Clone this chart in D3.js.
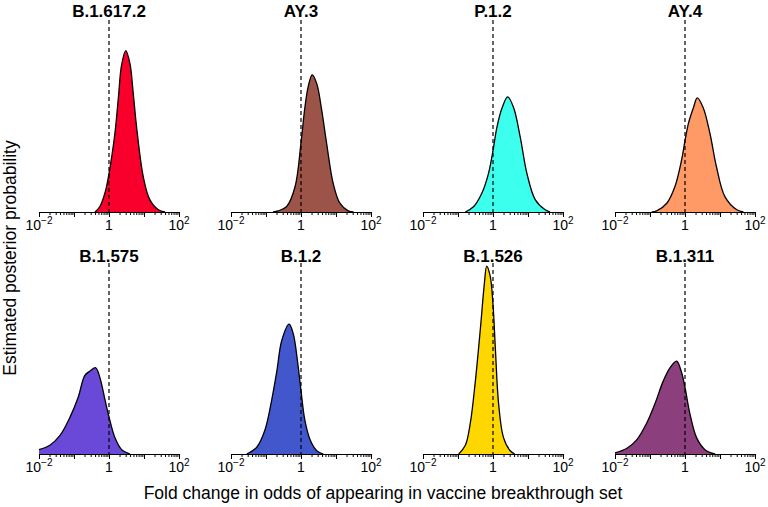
<!DOCTYPE html>
<html>
<head>
<meta charset="utf-8">
<script src="https://cdn.jsdelivr.net/npm/d3@7"></script>
<style>
  html, body { margin: 0; padding: 0; background: #fff; }
  svg { display: block; font-family: "Liberation Sans", Arial, Helvetica, sans-serif; }
</style>
</head>
<body>
<svg id="chart" width="768" height="507"></svg>
<script>
// ---- data (x = log10 fold change, y = estimated posterior density) ----
const lineages = ["B.1.617.2", "AY.3", "P.1.2", "AY.4", "B.1.575", "B.1.2", "B.1.526", "B.1.311"];

const densB16172 = [[-0.40,0],[-0.26,0.05],[-0.11,0.18],[0,0.35],[0.17,0.72],[0.27,1.05],[0.36,1.34],[0.48,1.47],[0.60,1.35],[0.69,1.09],[0.79,0.77],[0.98,0.32],[1.17,0.11],[1.41,0.02],[1.6,0]];
const densAY3    = [[-0.80,0],[-0.65,0.01],[-0.41,0.05],[-0.17,0.23],[0,0.63],[0.11,0.95],[0.21,1.15],[0.32,1.25],[0.45,1.17],[0.59,0.93],[0.73,0.63],[0.92,0.26],[1.11,0.08],[1.35,0.01],[1.5,0]];
const densP12    = [[-0.79,0],[-0.55,0.05],[-0.32,0.17],[-0.13,0.35],[0,0.56],[0.11,0.77],[0.26,0.95],[0.42,1.05],[0.59,0.95],[0.78,0.68],[0.97,0.35],[1.21,0.11],[1.49,0.02],[1.63,0]];
const densAY4    = [[-0.95,0],[-0.81,0.01],[-0.52,0.08],[-0.29,0.23],[-0.10,0.47],[0,0.65],[0.10,0.81],[0.24,0.95],[0.35,1.04],[0.52,0.95],[0.71,0.72],[0.90,0.41],[1.14,0.14],[1.48,0.02],[1.67,0]];
const densB1575  = [[-2,0.04],[-1.69,0.08],[-1.40,0.17],[-1.11,0.34],[-0.88,0.52],[-0.69,0.72],[-0.54,0.76],[-0.38,0.79],[-0.26,0.70],[-0.11,0.49],[0,0.34],[0.17,0.15],[0.36,0.04],[0.6,0]];
const densB12    = [[-1.55,0],[-1.27,0.06],[-1.03,0.22],[-0.84,0.49],[-0.69,0.76],[-0.55,1.04],[-0.34,1.19],[-0.22,1.10],[-0.10,0.85],[0,0.58],[0.11,0.31],[0.26,0.13],[0.45,0.03],[0.64,0]];
const densB1526  = [[-0.98,0],[-0.79,0.08],[-0.65,0.28],[-0.51,0.65],[-0.36,1.15],[-0.25,1.55],[-0.18,1.72],[-0.08,1.63],[0,1.37],[0.07,0.95],[0.16,0.46],[0.30,0.15],[0.49,0.03],[0.62,0]];
const densB1311  = [[-2,0.01],[-1.67,0.05],[-1.38,0.13],[-1.10,0.28],[-0.86,0.46],[-0.62,0.67],[-0.43,0.79],[-0.24,0.85],[-0.11,0.76],[0,0.61],[0.14,0.37],[0.33,0.15],[0.57,0.04],[0.86,0]];

const densities = [densB16172, densAY3, densP12, densAY4, densB1575, densB12, densB1526, densB1311];

const majorTicks = [0.01, 0.1, 1, 10, 100];
const tickLabels = [{v: 0.01, base: "10", exp: "\u22122"}, {v: 1, base: "1", exp: ""}, {v: 100, base: "10", exp: "2"}];
const yMax = 1.75;
const xLabel = "Fold change in odds of appearing in vaccine breakthrough set";
const yLabel = "Estimated posterior probability";

// ---- styles ----
const fills = ["#F8002B", "#9C5449", "#3CFFEE", "#FF9966", "#6A48D8", "#4257CC", "#FFD700", "#8B3F7C"];

// ---- layout ----
const svg = d3.select("#chart");
const panelW = 140, colStep = 192, left0 = 39;
const rowTop = [20, 263], rowAxis = [212, 454], titleY = [17, 262];

const minorTicks = [];
for (let e = -2; e < 2; e++) for (let m = 2; m <= 9; m++) minorTicks.push(m * Math.pow(10, e));

lineages.forEach((name, i) => {
  const col = i % 4, row = Math.floor(i / 4);
  const x0 = left0 + col * colStep;
  const x = d3.scaleLog().domain([0.01, 100]).range([x0, x0 + panelW]);
  const y = d3.scaleLinear().domain([0, yMax]).range([rowAxis[row], rowTop[row]]);
  const g = svg.append("g");
  const data = densities[i];

  const area = d3.area()
    .x(d => x(Math.pow(10, d[0])))
    .y0(y(0))
    .y1(d => y(d[1]))
    .curve(d3.curveCatmullRom.alpha(0.5));
  const line = d3.line()
    .x(d => x(Math.pow(10, d[0])))
    .y(d => y(d[1]))
    .curve(d3.curveCatmullRom.alpha(0.5));

  g.append("path").datum(data).attr("d", area).attr("fill", fills[i]).attr("stroke", "none");
  g.append("path").datum(data).attr("d", line).attr("fill", "none")
    .attr("stroke", "#000").attr("stroke-width", 1.3).attr("stroke-linejoin", "round");

  // dashed reference line at fold change = 1
  g.append("line")
    .attr("x1", x(1)).attr("x2", x(1))
    .attr("y1", y(yMax)).attr("y2", y(0))
    .attr("stroke", "#000").attr("stroke-width", 1.2).attr("stroke-dasharray", "4,3");

  // axes
  const axMinor = d3.axisBottom(x).tickValues(minorTicks).tickSize(3).tickSizeOuter(0).tickFormat(() => "");
  const axMajor = d3.axisBottom(x).tickValues(majorTicks).tickSize(5).tickSizeOuter(0).tickFormat(() => "");
  const gm = g.append("g").attr("transform", `translate(0,${rowAxis[row]})`).call(axMinor);
  gm.select(".domain").remove();
  const gM = g.append("g").attr("transform", `translate(0,${rowAxis[row]})`).call(axMajor);
  g.selectAll(".tick line").attr("stroke", "#000").attr("stroke-width", 1);
  gM.select(".domain").attr("stroke", "#000").attr("stroke-width", 1.2);

  tickLabels.forEach(t => {
    const txt = g.append("text")
      .attr("x", x(t.v)).attr("y", rowAxis[row] + 18)
      .attr("text-anchor", "middle").attr("font-size", 14).attr("fill", "#000");
    txt.append("tspan").text(t.base);
    if (t.exp) txt.append("tspan").attr("dy", -6).attr("font-size", 10).text(t.exp);
  });

  // title
  g.append("text")
    .attr("x", x(1)).attr("y", titleY[row])
    .attr("text-anchor", "middle").attr("font-size", 17).attr("font-weight", "bold")
    .attr("fill", "#000").text(name);
});

svg.append("text")
  .attr("x", 383).attr("y", 499)
  .attr("text-anchor", "middle").attr("font-size", 17.5).attr("fill", "#000")
  .text(xLabel);

svg.append("text")
  .attr("transform", "translate(16,258) rotate(-90)")
  .attr("text-anchor", "middle").attr("font-size", 17.5).attr("fill", "#000")
  .text(yLabel);
</script>
</body>
</html>
